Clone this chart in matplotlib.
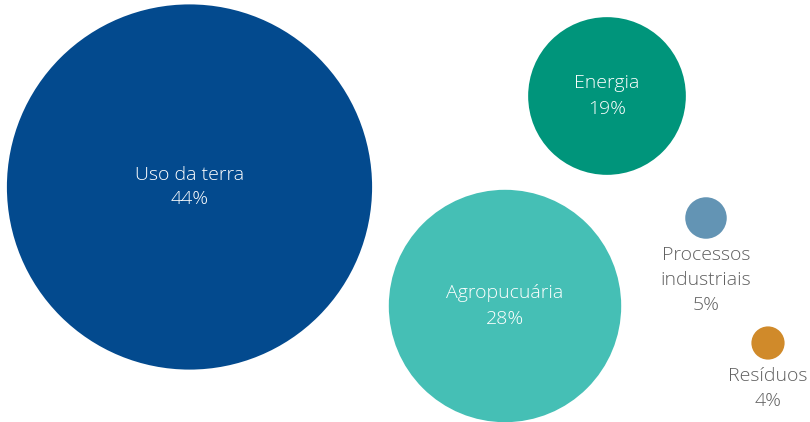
import matplotlib.pyplot as plt
from matplotlib.patches import Circle

# Emission shares by sector (%)
sectors = ["Uso da terra", "Energia", "Agropucuária", "Processos\nindustriais", "Resíduos"]
shares = [44, 19, 28, 5, 4]
colors = ["#034A8E", "#00957B", "#45BFB5", "#6394B4", "#D08A2A"]

# bubble centres in pixel space, radius scales with the share
centers = [(189.5, 187), (607, 96), (505, 306), (706, 218), (768, 343)]
px_per_pct = 4.15
inside = [True, True, True, False, False]

plt.rcParams["font.family"] = ["Open Sans", "DejaVu Sans"]

fig = plt.figure(figsize=(8.1, 4.22), dpi=100)
ax = fig.add_axes([0, 0, 1, 1])
ax.set_xlim(0, 810)
ax.set_ylim(422, 0)
ax.set_aspect("equal")
ax.axis("off")

for name, val, col, (cx, cy), inn in zip(sectors, shares, colors, centers, inside):
    r = val * px_per_pct
    ax.add_patch(Circle((cx, cy), r, color=col, lw=0))
    label = f"{name}\n{val}%"
    if inn:
        ax.text(cx, cy, label, ha="center", va="center", color="white",
                fontsize=14, fontweight="light", linespacing=1.5)
    else:
        ax.text(cx, cy + r + 7, label, ha="center", va="top", color="#606060",
                fontsize=14, fontweight="light", linespacing=1.52)

fig.savefig("out.png", dpi=100)
